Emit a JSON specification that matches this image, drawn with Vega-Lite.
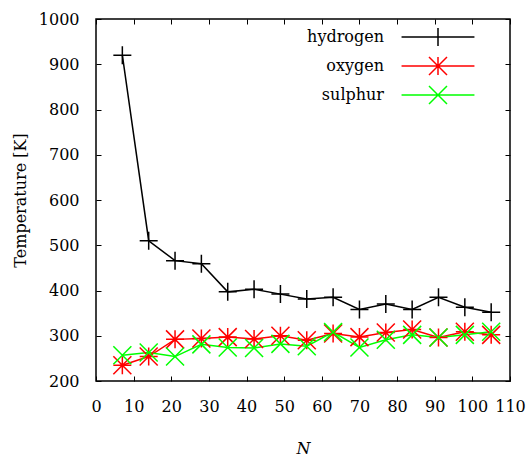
{
  "$schema": "https://vega.github.io/schema/vega-lite/v6.json",
  "width": 414,
  "height": 362,
  "autosize": "none",
  "padding": {"left": 96, "top": 19, "right": 21, "bottom": 77},
  "background": "white",
  "config": {
    "view": {"stroke": "black", "strokeWidth": 1.5},
    "font": "DejaVu Serif",
    "axis": {"grid": false, "domain": false, "tickColor": "black", "tickWidth": 1, "labelColor": "black", "titleColor": "black", "labelFont": "DejaVu Serif", "titleFont": "DejaVu Serif", "labelFontSize": 16, "titleFontSize": 16, "titleFontWeight": "normal", "labelOverlap": false, "labelFlush": false, "format": "d"},
    "legend": {"labelFont": "DejaVu Serif", "labelFontSize": 16, "labelColor": "black"}
  },
  "data": {"values": [
    {"N": 7, "T": 920, "s": "hydrogen"}, {"N": 14, "T": 510, "s": "hydrogen"}, {"N": 21, "T": 466, "s": "hydrogen"}, {"N": 28, "T": 459, "s": "hydrogen"}, {"N": 35, "T": 397, "s": "hydrogen"}, {"N": 42, "T": 403, "s": "hydrogen"}, {"N": 49, "T": 392, "s": "hydrogen"}, {"N": 56, "T": 381, "s": "hydrogen"}, {"N": 63, "T": 385, "s": "hydrogen"}, {"N": 70, "T": 358, "s": "hydrogen"}, {"N": 77, "T": 370, "s": "hydrogen"}, {"N": 84, "T": 358, "s": "hydrogen"}, {"N": 91, "T": 385, "s": "hydrogen"}, {"N": 98, "T": 363, "s": "hydrogen"}, {"N": 105, "T": 352, "s": "hydrogen"},
    {"N": 7, "T": 235, "s": "oxygen"}, {"N": 14, "T": 254, "s": "oxygen"}, {"N": 21, "T": 292, "s": "oxygen"}, {"N": 28, "T": 294, "s": "oxygen"}, {"N": 35, "T": 297, "s": "oxygen"}, {"N": 42, "T": 293, "s": "oxygen"}, {"N": 49, "T": 300, "s": "oxygen"}, {"N": 56, "T": 290, "s": "oxygen"}, {"N": 63, "T": 305, "s": "oxygen"}, {"N": 70, "T": 297, "s": "oxygen"}, {"N": 77, "T": 307, "s": "oxygen"}, {"N": 84, "T": 314, "s": "oxygen"}, {"N": 91, "T": 296, "s": "oxygen"}, {"N": 98, "T": 309, "s": "oxygen"}, {"N": 105, "T": 302, "s": "oxygen"},
    {"N": 7, "T": 257, "s": "sulphur"}, {"N": 14, "T": 263, "s": "sulphur"}, {"N": 21, "T": 254, "s": "sulphur"}, {"N": 28, "T": 281, "s": "sulphur"}, {"N": 35, "T": 274, "s": "sulphur"}, {"N": 42, "T": 273, "s": "sulphur"}, {"N": 49, "T": 282, "s": "sulphur"}, {"N": 56, "T": 277, "s": "sulphur"}, {"N": 63, "T": 308, "s": "sulphur"}, {"N": 70, "T": 274, "s": "sulphur"}, {"N": 77, "T": 291, "s": "sulphur"}, {"N": 84, "T": 302, "s": "sulphur"}, {"N": 91, "T": 296, "s": "sulphur"}, {"N": 98, "T": 302, "s": "sulphur"}, {"N": 105, "T": 309, "s": "sulphur"}
  ]},
  "resolve": {"axis": {"x": "independent", "y": "independent"}, "legend": {"color": "independent", "shape": "independent"}},
  "layer": [
    {
      "mark": {"type": "line", "strokeWidth": 1.5},
      "encoding": {
        "x": {"field": "N", "type": "quantitative", "scale": {"domain": [0, 110], "nice": false}, "axis": {"orient": "bottom", "values": [0,10,20,30,40,50,60,70,80,90,100,110], "tickSize": -5, "labelPadding": 22, "title": "N", "titleFontStyle": "italic", "titlePadding": 26}},
        "y": {"field": "T", "type": "quantitative", "scale": {"domain": [200, 1000], "nice": false, "zero": false}, "axis": {"orient": "left", "values": [200,300,400,500,600,700,800,900,1000], "tickSize": -5, "labelPadding": 22, "title": "Temperature [K]", "titlePadding": 10}},
        "color": {"field": "s", "type": "nominal", "scale": {"domain": ["hydrogen", "oxygen", "sulphur"], "range": ["#000000", "#ff0000", "#00ff00"]},
          "legend": {"orient": "none", "legendX": 332, "legendY": 8, "title": null, "padding": 0, "rowPadding": 5, "labelAlign": "right", "labelOffset": -64, "symbolSize": 324, "symbolStrokeWidth": 1.5,
            "encode": {"symbols": {"update": {"shape": {"signal": "datum.value === 'hydrogen' ? 'M-4.05,0L4.05,0M0,-1L0,1' : datum.value === 'oxygen' ? 'M-4.05,0L4.05,0M0,-1L0,1M-1,-1L1,1M-1,1L1,-1' : 'M-4.05,0L4.05,0M-1,-1L1,1M-1,1L1,-1'"}}}}}}
      }
    },
    {
      "mark": {"type": "point", "filled": false, "strokeWidth": 1.5, "size": 324, "opacity": 1},
      "encoding": {
        "x": {"field": "N", "type": "quantitative", "axis": null},
        "y": {"field": "T", "type": "quantitative", "axis": null},
        "color": {"field": "s", "type": "nominal", "legend": null},
        "shape": {"field": "s", "type": "nominal", "legend": null, "scale": {"domain": ["hydrogen", "oxygen", "sulphur"], "range": ["M-1,0L1,0M0,-1L0,1", "M-1,0L1,0M0,-1L0,1M-1,-1L1,1M-1,1L1,-1", "M-1,-1L1,1M-1,1L1,-1"]}}
      }
    },
    {
      "mark": {"type": "point", "opacity": 0},
      "encoding": {
        "x": {"field": "N", "type": "quantitative", "axis": {"orient": "top", "values": [0,10,20,30,40,50,60,70,80,90,100,110], "tickSize": -5, "labels": false, "title": null}},
        "y": {"field": "T", "type": "quantitative", "axis": {"orient": "right", "values": [200,300,400,500,600,700,800,900,1000], "tickSize": -5, "labels": false, "title": null}}
      }
    }
  ]
}
